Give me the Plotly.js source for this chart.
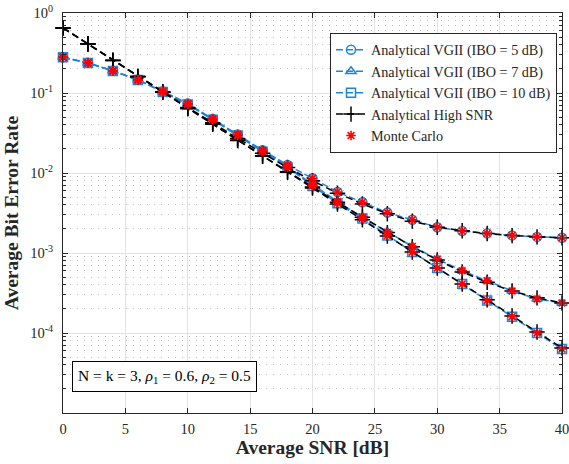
<!DOCTYPE html>
<html>
<head>
<meta charset="utf-8">
<script src="https://cdn.plot.ly/plotly-3.0.1.min.js"></script>
<style>html,body{margin:0;padding:0;background:#fff;}#chart{width:569px;height:464px;}</style>
</head>
<body>
<div id="chart"></div>
<script>
const snr = [0,2,4,6,8,10,12,14,16,18,20,22,24,26,28,30,32,34,36,38,40];
const vgiiIbo5  = [0.28,0.238,0.19,0.147,0.105,0.074,0.0475,0.0303,0.0192,0.0126,0.0086,0.0058,0.0043,0.0032,0.0026,0.0021,0.00188,0.00176,0.00166,0.00159,0.00155];
const vgiiIbo7  = [0.28,0.237,0.189,0.146,0.104,0.073,0.0466,0.0298,0.0187,0.0120,0.0072,0.0044,0.0028,0.00182,0.00121,0.00084,0.0006,0.00045,0.000335,0.000266,0.000237];
const vgiiIbo10 = [0.279,0.237,0.189,0.145,0.103,0.072,0.0462,0.0295,0.0185,0.0118,0.0069,0.0042,0.0027,0.00165,0.00103,0.00065,0.00041,0.000255,0.00016,0.0001,0.000063];
const highIbo5  = [0.652,0.412,0.257,0.162,0.104,0.066,0.0425,0.027,0.0177,0.0117,0.008,0.0056,0.0041,0.0031,0.0025,0.0021,0.0019,0.00175,0.00165,0.00159,0.00155];
const highIbo7  = [0.65,0.41,0.255,0.16,0.102,0.064,0.041,0.0257,0.0164,0.0104,0.0067,0.0043,0.0028,0.0018,0.0012,0.00082,0.00058,0.00043,0.000335,0.000275,0.000237];
const highIbo10 = [0.65,0.41,0.255,0.16,0.102,0.064,0.041,0.0255,0.0162,0.0102,0.0065,0.0041,0.0026,0.00163,0.00103,0.00065,0.00041,0.00026,0.000163,0.000103,0.000065];
const mcIbo5  = vgiiIbo5;
const mcIbo7  = vgiiIbo7;
const mcIbo10 = vgiiIbo10;
const yTickVals = [1e-4,1e-3,1e-2,1e-1,1];
const yTickText = ['10<sup>-4</sup>','10<sup>-3</sup>','10<sup>-2</sup>','10<sup>-1</sup>','10<sup>0</sup>'];
const xTickVals = [0,5,10,15,20,25,30,35,40];

const blue = '#1f84dc';
const font = 'Liberation Serif, Times New Roman, serif';

function vgii(y, name, sym) {
  return {x: snr, y: y, name: name, mode: 'lines+markers', type: 'scatter', cliponaxis: false,
    line: {color: blue, width: 1.5, dash: '7px,3px'},
    marker: {symbol: sym, size: 9, color: blue, line: {color: blue, width: 1.5}}};
}
function high(y, show) {
  return {x: snr, y: y, name: 'Analytical High SNR', showlegend: show, legendgroup: 'high',
    mode: 'lines+markers', type: 'scatter', cliponaxis: false,
    line: {color: '#000', width: 1.5, dash: '7px,4px'},
    marker: {symbol: 'cross-thin-open', size: 11, color: '#000', line: {color: '#000', width: 1.5}}};
}
function mc(y, show) {
  return {x: snr, y: y, name: 'Monte Carlo', showlegend: show, legendgroup: 'mc',
    mode: 'markers', type: 'scatter', cliponaxis: false,
    marker: {symbol: 'asterisk-open', size: 8, color: '#ff0000', line: {color: '#ff0000', width: 1.6}}};
}

const data = [
  vgii(vgiiIbo5, 'Analytical VGII (IBO = 5 dB)', 'circle-open'),
  vgii(vgiiIbo7, 'Analytical VGII (IBO = 7 dB)', 'triangle-up-open'),
  vgii(vgiiIbo10, 'Analytical VGII (IBO = 10 dB)', 'square-open'),
  high(highIbo5, true), high(highIbo7, false), high(highIbo10, false),
  mc(mcIbo5, true), mc(mcIbo7, false), mc(mcIbo10, false)
];

const layout = {
  width: 569, height: 464,
  margin: {l: 63, r: 7, t: 13, b: 51},
  paper_bgcolor: '#fff', plot_bgcolor: '#fff',
  font: {family: font, size: 14, color: '#262626'},
  showlegend: true,
  legend: {x: 0.99, xanchor: 'right', y: 0.95, yanchor: 'top',
    bgcolor: '#fff', bordercolor: '#262626', borderwidth: 1,
    font: {family: font, size: 14.2, color: '#262626'},
    tracegroupgap: 0, itemwidth: 30},
  xaxis: {
    range: [0, 40], tickvals: xTickVals, ticks: 'inside', ticklen: 5, tickcolor: '#262626',
    showline: true, linecolor: '#262626', linewidth: 1, mirror: 'ticks',
    showgrid: true, gridcolor: '#e3e3e3', gridwidth: 1, zeroline: false,
    tickfont: {family: font, size: 14.5, color: '#262626'},
    ticklabelstandoff: 3, ticklabeloverflow: 'allow',
    title: {text: '<b>Average SNR [dB]</b>', font: {family: font, size: 19.5, color: '#262626'}, standoff: 3}
  },
  yaxis: {
    type: 'log', range: [-5, 0], tickvals: yTickVals, ticktext: yTickText,
    ticks: 'inside', ticklen: 5, tickcolor: '#262626',
    showline: true, linecolor: '#262626', linewidth: 1, mirror: 'ticks',
    showgrid: true, gridcolor: '#e3e3e3', gridwidth: 1, zeroline: false,
    tickfont: {family: font, size: 14.5, color: '#262626'},
    ticklabelstandoff: 6, ticklabeloverflow: 'allow',
    minor: {dtick: 'D1', ticks: 'inside', ticklen: 3, tickcolor: '#262626', showgrid: true, griddash: '1px,6px', gridcolor: '#bdbdbd', gridwidth: 1},
    title: {text: '<b>Average Bit Error Rate</b>', font: {family: font, size: 19.5, color: '#262626'}, standoff: 6}
  },
  annotations: [{
    xref: 'paper', yref: 'paper', x: 0.018, y: 0.053, xanchor: 'left', yanchor: 'bottom',
    text: 'N = k = 3, <i>ρ</i><sub>1</sub> = 0.6, <i>ρ</i><sub>2</sub> = 0.5',
    showarrow: false, align: 'left',
    font: {family: font, size: 15.5, color: '#000'},
    bgcolor: '#fff', bordercolor: '#000', borderwidth: 1, borderpad: 5
  }]
};

Plotly.newPlot('chart', data, layout, {displayModeBar: false, staticPlot: true});
</script>
</body>
</html>
